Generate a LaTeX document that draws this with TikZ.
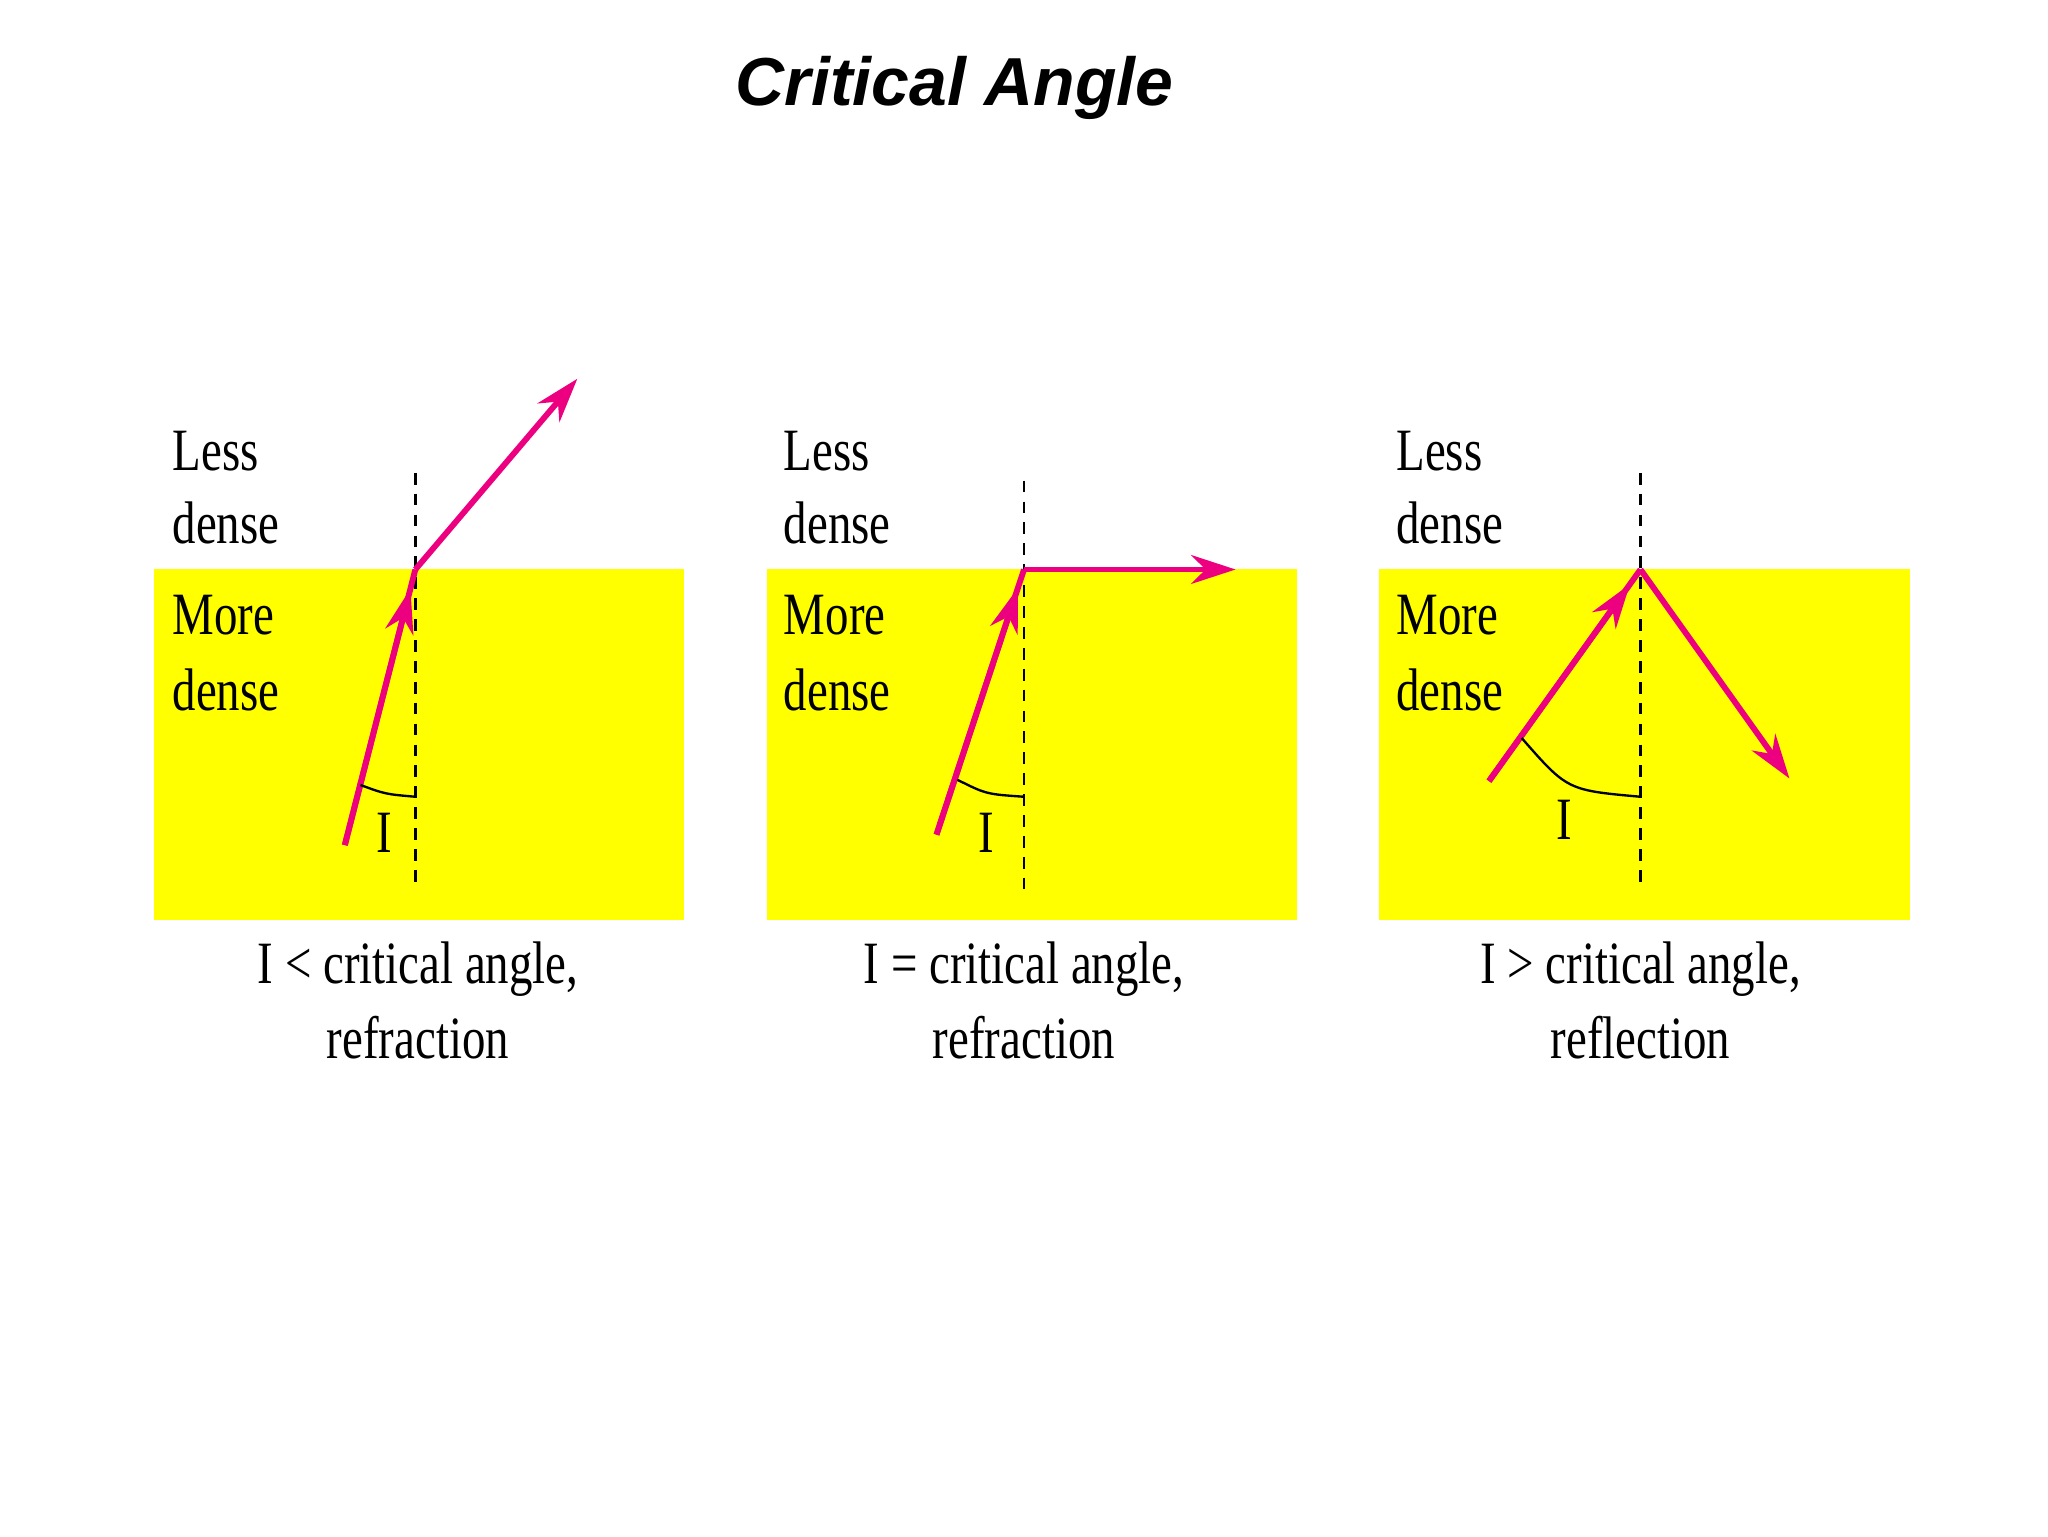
\documentclass[tikz,border=0pt]{standalone}
\usepackage{fontspec}
\setmainfont{Liberation Serif}
\newfontfamily\cond[FakeStretch=0.78]{Liberation Serif}
\newfontfamily\titlefont{Liberation Sans}
\usetikzlibrary{arrows.meta,calc}
\definecolor{ray}{RGB}{236,0,128}
\definecolor{yel}{RGB}{255,255,0}
\tikzset{
  medium/.style={fill=yel,draw=none},
  normal/.style={line width=1.8pt,dash pattern=on 9pt off 7pt},
  beam/.style={draw=ray,line width=4.5pt,-{Stealth[length=34pt,width=22pt]}},
  beamline/.style={draw=ray,line width=4.5pt},
  arcl/.style={line width=1.8pt},
  lab/.style={font=\cond\fontsize{46}{50}\selectfont,anchor=west,inner sep=0},
  captext/.style={font=\cond\fontsize{46}{57}\selectfont,align=center,inner sep=0}
}
\begin{document}
\begin{tikzpicture}[x=1pt,y=-1pt]
\useasboundingbox (0,0) rectangle (1568,1176);
\node[font=\titlefont\bfseries\itshape\fontsize{52}{56}\selectfont] (title) at (731,67) {Critical Angle};
% panel 1
\fill[medium] (118,436) rectangle (524,704);
\coordinate (p1) at (318,436);
\draw[normal] (318,362) -- (318,678);
\coordinate (s1) at (264,647);
\draw[beamline] (s1) -- (p1);
\draw[beam] (s1) -- ($(s1)!0.93!(p1)$);
\coordinate (e1) at (442,290);
\draw[beam] (p1) -- (e1);
\draw[arcl] (276,601) .. controls (295,608) .. (318,610);
\node[captext] (i1) at (294,638) {I};
\node[lab] (l1) at (132,345) {Less};
\node[lab] (d1) at (132,400) {dense};
\node[lab] (m1) at (132,471) {More};
\node[lab] (n1) at (132,528) {dense};
\node[captext] (c1) at (320,766) {I < critical angle,\\refraction};
% panel 2
\fill[medium] (587,436) rectangle (993,704);
\coordinate (p2) at (784,436);
\draw[normal] (784,368) -- (784,684);
\coordinate (s2) at (717,639);
\draw[beamline] (s2) -- (p2);
\draw[beam] (s2) -- ($(s2)!0.93!(p2)$);
\coordinate (e2) at (946,436);
\draw[beam] (p2) -- (e2);
\draw[arcl] (733,597) .. controls (755,608) .. (784,610);
\node[captext] (i2) at (755,638) {I};
\node[lab] (l2) at (600,345) {Less};
\node[lab] (d2) at (600,400) {dense};
\node[lab] (m2) at (600,471) {More};
\node[lab] (n2) at (600,528) {dense};
\node[captext] (c2) at (784,766) {I = critical angle,\\refraction};
% panel 3
\fill[medium] (1056,436) rectangle (1462,704);
\coordinate (p3) at (1256,436);
\draw[normal] (1256,362) -- (1256,678);
\coordinate (s3) at (1140,598);
\draw[beamline] (s3) -- (p3);
\draw[beam] (s3) -- ($(s3)!0.93!(p3)$);
\coordinate (e3) at (1370,596);
\draw[beam] (p3) -- (e3);
\draw[arcl] (1165,565) .. controls (1200,605) .. (1256,610);
\node[captext] (i3) at (1198,628) {I};
\node[lab] (l3) at (1069,345) {Less};
\node[lab] (d3) at (1069,400) {dense};
\node[lab] (m3) at (1069,471) {More};
\node[lab] (n3) at (1069,528) {dense};
\node[captext] (c3) at (1256,766) {I > critical angle,\\reflection};
\end{tikzpicture}
\end{document}
